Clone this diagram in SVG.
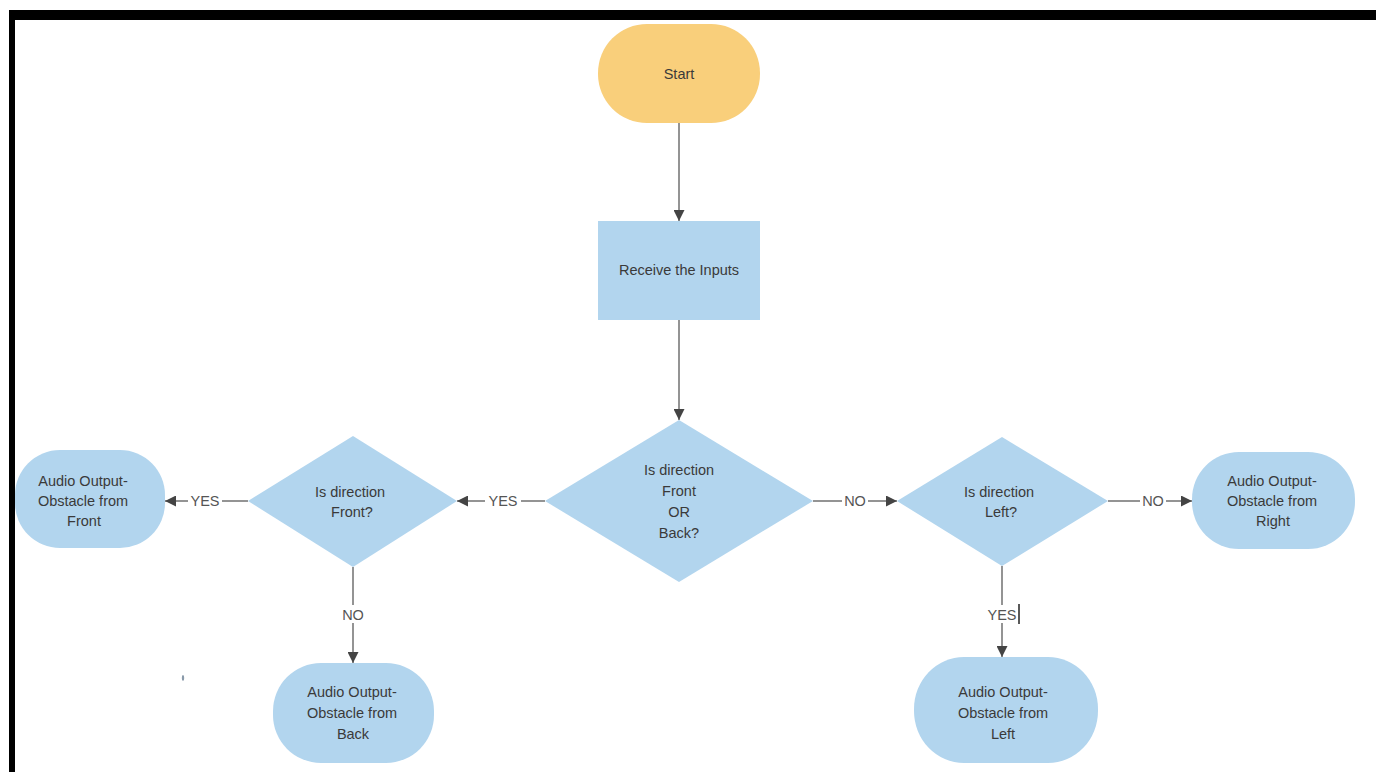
<svg xmlns="http://www.w3.org/2000/svg" width="1376" height="772" viewBox="0 0 1376 772">
  <style>
    .txt { font-family: "Liberation Sans", Arial, sans-serif; font-size: 14.5px; fill: #3a3a3a; text-anchor: middle; }
    .lbl { font-family: "Liberation Sans", Arial, sans-serif; font-size: 14.5px; fill: #555; text-anchor: middle; }
    .blue { fill: #b2d5ee; }
    .start { fill: #f9cf7b; }
    .edge { stroke: #707070; stroke-width: 1.5; fill: none; }
    .gap { fill: #ffffff; }
  </style>
  <defs>
    <marker id="arrow" markerUnits="userSpaceOnUse" markerWidth="11" markerHeight="11" refX="11" refY="5.5" orient="auto">
      <path d="M0,0 L11,5.5 L0,11 Z" fill="#444"/>
    </marker>
  </defs>

  <rect x="0" y="0" width="1376" height="772" fill="#ffffff"/>

  <!-- frame -->
  <rect x="9" y="10" width="1367" height="10" fill="#000"/>
  <rect x="9" y="10" width="6" height="762" fill="#000"/>

  <!-- connectors -->
  <g id="connectors">
    <line class="edge" x1="679" y1="123" x2="679" y2="221" marker-end="url(#arrow)"/>
    <line class="edge" x1="679" y1="320" x2="679" y2="420" marker-end="url(#arrow)"/>

    <line class="edge" x1="545" y1="501" x2="457" y2="501" marker-end="url(#arrow)"/>
    <rect class="gap" x="485" y="492" width="36" height="18"/>
    <text class="lbl" x="503" y="506">YES</text>

    <line class="edge" x1="248" y1="501" x2="165" y2="501" marker-end="url(#arrow)"/>
    <rect class="gap" x="188" y="492" width="34" height="18"/>
    <text class="lbl" x="205" y="506">YES</text>

    <line class="edge" x1="353" y1="567" x2="353" y2="663" marker-end="url(#arrow)"/>
    <rect class="gap" x="340" y="605" width="26" height="18"/>
    <text class="lbl" x="353" y="620">NO</text>

    <line class="edge" x1="813" y1="501" x2="897" y2="501" marker-end="url(#arrow)"/>
    <rect class="gap" x="842" y="492" width="26" height="18"/>
    <text class="lbl" x="855" y="506">NO</text>

    <line class="edge" x1="1108" y1="501" x2="1192" y2="501" marker-end="url(#arrow)"/>
    <rect class="gap" x="1140" y="492" width="26" height="18"/>
    <text class="lbl" x="1153" y="506">NO</text>

    <line class="edge" x1="1002" y1="566" x2="1002" y2="657" marker-end="url(#arrow)"/>
    <rect class="gap" x="985" y="605" width="34" height="18"/>
    <text class="lbl" x="1002" y="620">YES</text>
    <line x1="1019" y1="604" x2="1019" y2="624" stroke="#222" stroke-width="1.5"/>
  </g>

  <g id="start">
    <rect class="start" x="598" y="24" width="162" height="99" rx="49" ry="49"/>
    <text class="txt" x="679" y="79">Start</text>
  </g>

  <g id="receive-inputs">
    <rect class="blue" x="598" y="221" width="162" height="99"/>
    <text class="txt" x="679" y="275">Receive the Inputs</text>
  </g>

  <g id="decision-front-or-back">
    <polygon class="blue" points="679,420 813,501 679,582 545,501"/>
    <text class="txt" x="679" y="475">Is direction</text>
    <text class="txt" x="679" y="496">Front</text>
    <text class="txt" x="679" y="517">OR</text>
    <text class="txt" x="679" y="538">Back?</text>
  </g>

  <g id="decision-front">
    <polygon class="blue" points="353,436 457,501 353,567 248,501"/>
    <text class="txt" x="350" y="497">Is direction</text>
    <text class="txt" x="352" y="517">Front?</text>
  </g>

  <g id="decision-left">
    <polygon class="blue" points="1002,437 1108,501 1002,566 897,501"/>
    <text class="txt" x="999" y="497">Is direction</text>
    <text class="txt" x="1001" y="517">Left?</text>
  </g>

  <g id="output-front">
    <rect class="blue" x="15" y="450" width="150" height="98" rx="45" ry="45"/>
    <text class="txt" x="83" y="486">Audio Output-</text>
    <text class="txt" x="83" y="506">Obstacle from</text>
    <text class="txt" x="84" y="526">Front</text>
  </g>

  <g id="output-back">
    <rect class="blue" x="273" y="663" width="161" height="100" rx="48" ry="48"/>
    <text class="txt" x="352" y="697">Audio Output-</text>
    <text class="txt" x="352" y="718">Obstacle from</text>
    <text class="txt" x="353" y="739">Back</text>
  </g>

  <g id="output-left">
    <rect class="blue" x="914" y="657" width="184" height="106" rx="50" ry="52"/>
    <text class="txt" x="1003" y="697">Audio Output-</text>
    <text class="txt" x="1003" y="718">Obstacle from</text>
    <text class="txt" x="1003" y="739">Left</text>
  </g>

  <g id="output-right">
    <rect class="blue" x="1192" y="452" width="163" height="97" rx="47" ry="47"/>
    <text class="txt" x="1272" y="486">Audio Output-</text>
    <text class="txt" x="1272" y="506">Obstacle from</text>
    <text class="txt" x="1273" y="526">Right</text>
  </g>

  <ellipse cx="183" cy="678" rx="1.2" ry="3" fill="#8a9aaa"/>
</svg>
